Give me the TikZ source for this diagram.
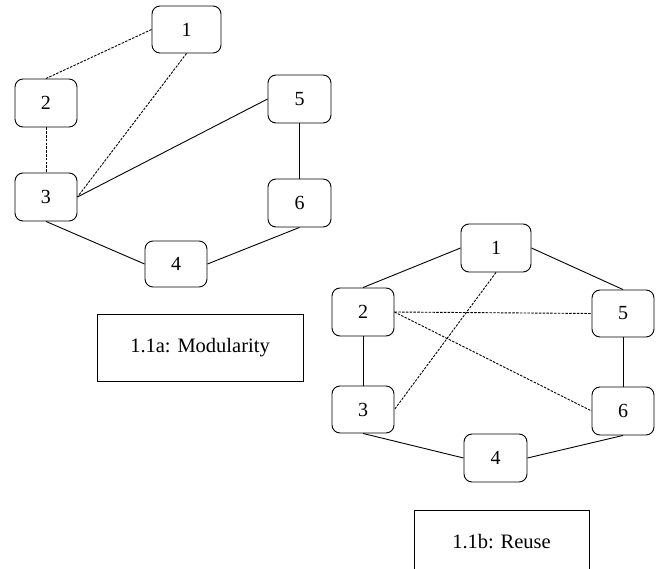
\documentclass[tikz,border=0pt]{standalone}
\usepackage{fontspec}
\setmainfont{Liberation Serif}
\begin{document}
\begin{tikzpicture}[x=1pt,y=-1pt,
  vbox/.style={draw=black,line width=0.9pt,rounded corners=8pt,minimum width=62pt,minimum height=48pt,inner sep=0pt,font=\fontsize{20}{24}\selectfont},
  capbox/.style={draw=black,line width=0.9pt,inner sep=0pt,font=\fontsize{20.5}{24}\selectfont},
  solidedge/.style={line width=0.9pt},
  dotedge/.style={line width=0.9pt,dash pattern=on 2.5pt off 1.3pt}]
\useasboundingbox (0,0) rectangle (657,569);
% left graph
\node[vbox,minimum width=69pt,minimum height=47pt] (a1) at (186.5,29.5) {1};
\node[vbox] (a2) at (46,103) {2};
\node[vbox] (a3) at (46,197) {3};
\node[vbox,minimum height=46pt] (a4) at (176,264) {4};
\node[vbox,minimum width=63pt] (a5) at (299.5,99) {5};
\node[vbox,minimum width=63pt] (a6) at (299.5,203) {6};
\node[capbox,minimum width=206pt,minimum height=67pt] (capa) at (200,347.5) {1.1a: Modularity};
\draw[dotedge] (a1.west) -- (a2.north);
\draw[dotedge] (a1.south) -- (a3.east);
\draw[dotedge] (a2.south) -- (a3.north);
\draw[solidedge] (a3.east) -- (a5.west);
\draw[solidedge] (a5.south) -- (a6.north);
\draw[solidedge] (a3.south) -- (a4.west);
\draw[solidedge] (a4.east) -- (a6.south);
% right graph
\node[vbox,minimum width=70pt] (b1) at (496,248) {1};
\node[vbox] (b2) at (363,312) {2};
\node[vbox,minimum height=47pt] (b5) at (623,313.5) {5};
\node[vbox,minimum height=47pt] (b3) at (363,409.5) {3};
\node[vbox] (b6) at (623,411) {6};
\node[vbox,minimum width=63pt] (b4) at (495.5,458) {4};
\node[capbox,minimum width=175pt,minimum height=64pt] (capb) at (501.5,542) {1.1b: Reuse};
\draw[solidedge] (b1.west) -- (b2.north);
\draw[solidedge] (b1.east) -- (b5.north);
\draw[dotedge] (b2.east) -- (b5.west);
\draw[dotedge] (b2.east) -- (b6.west);
\draw[dotedge] (b1.south) -- (b3.east);
\draw[solidedge] (b2.south) -- (b3.north);
\draw[solidedge] (b5.south) -- (b6.north);
\draw[solidedge] (b3.south) -- (b4.west);
\draw[solidedge] (b4.east) -- (b6.south);
\end{tikzpicture}
\end{document}
